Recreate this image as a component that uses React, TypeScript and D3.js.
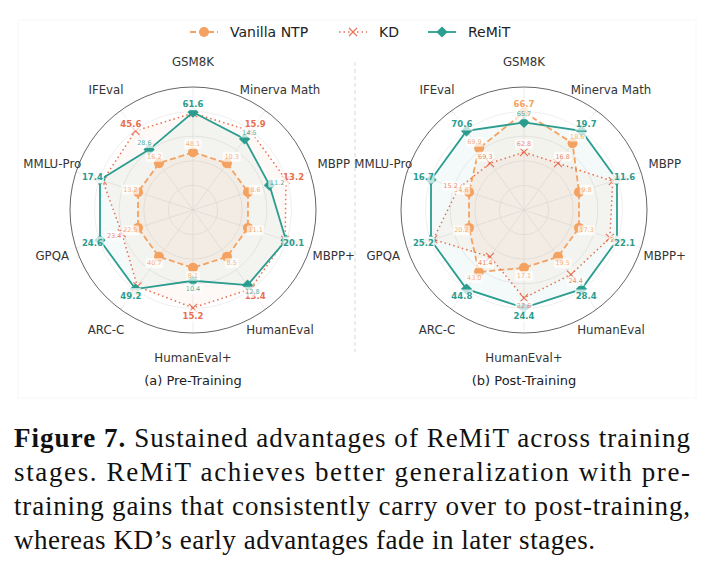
import React from "react";
import * as d3 from "d3";

// benchmark axes, clockwise from the top
const AXES = ["GSM8K", "Minerva Math", "MBPP", "MBPP+", "HumanEval", "HumanEval+", "ARC-C", "GPQA", "MMLU-Pro", "IFEval"];

const SERIES_NAMES = ["Vanilla NTP", "KD", "ReMiT"];
const SERIES_COLORS = ["#F4A261", "#E76F51", "#2A9D8F"];

// (a) pre-training
const PRE_VANILLA = [48.1, 10.3, 8.6, 11.1, 8.5, 8.1, 40.7, 22.5, 13.2, 16.2];
const PRE_KD = [61.3, 15.9, 13.2, 19.9, 13.4, 15.2, 48.5, 23.4, 17.1, 45.6];
const PRE_REMIT = [61.6, 14.5, 11.2, 20.1, 12.8, 10.4, 49.2, 24.6, 17.4, 28.6];

// (b) post-training
const POST_VANILLA = [66.7, 18.6, 9.8, 17.3, 19.5, 17.1, 43.0, 20.2, 14.6, 69.9];
const POST_KD = [62.8, 16.8, 11.4, 21.2, 24.4, 22.6, 41.4, 24.9, 15.2, 69.3];
const POST_REMIT = [65.7, 19.7, 11.6, 22.1, 28.4, 24.4, 44.8, 25.2, 16.7, 70.6];

const CAPTION = [
  "Sustained advantages of ReMiT across training",
  "stages.  ReMiT achieves better generalization with pre-",
  "training gains that consistently carry over to post-training,",
  "whereas KD\u2019s early advantages fade in later stages.",
];

const W = 711;
const H = 566;
const R = 123;
const FONT = "'DejaVu Sans', sans-serif";

const Marker = ({ kind, x, y, color }: { kind: number; x: number; y: number; color: string }) => {
  if (kind === 0) {
    return <path d={d3.symbol(d3.symbolCircle, 78)()!} transform={`translate(${x},${y})`} fill={color} />;
  }
  if (kind === 1) {
    const s = 4;
    return (
      <path
        d={`M${x - s},${y - s}L${x + s},${y + s}M${x - s},${y + s}L${x + s},${y - s}`}
        stroke={color}
        strokeWidth={1.1}
        fill="none"
      />
    );
  }
  return <path d={d3.symbol(d3.symbolDiamond2, 80)()!} transform={`translate(${x},${y})`} fill={color} />;
};

const dash = ["6,3", "1.5,3", null];
const widths = [1.8, 1.5, 1.8];

const Radar = ({ cx, cy, data, title }: { cx: number; cy: number; data: number[][]; title: string }) => {
  const n = AXES.length;
  const angle = d3.scaleLinear().domain([0, n]).range([0, 2 * Math.PI]);
  const grid = d3.scaleLinear().domain([0, 1]).range([0, R]);
  // each axis normalised on its own min..max
  const scales = AXES.map((_, i) => {
    const vals = data.map((s) => s[i]);
    return d3.scaleLinear().domain([d3.min(vals)!, d3.max(vals)!]).range([0.47 * R, 0.795 * R]);
  });
  const pt = (i: number, r: number) => [r * Math.sin(angle(i)), -r * Math.cos(angle(i))];
  const line = (vals: number[]) =>
    d3
      .lineRadial<number>()
      .angle((_, i) => angle(i))
      .radius((v, i) => scales[i](v))
      .curve(d3.curveLinearClosed)(vals)!;

  const maxIdx = AXES.map((_, i) => d3.maxIndex(data, (s) => s[i]));

  return (
    <g transform={`translate(${cx},${cy})`}>
      {[0.2, 0.4, 0.6, 0.8].map((t) => (
        <circle key={t} r={grid(t)} fill="none" stroke="#e6e6e6" strokeWidth={0.7} />
      ))}
      {AXES.map((_, i) => {
        const [x, y] = pt(i, R);
        return <line key={i} x1={0} y1={0} x2={x} y2={y} stroke="#e6e6e6" strokeWidth={0.7} />;
      })}
      <circle r={R} fill="none" stroke="#555" strokeWidth={0.9} />
      {AXES.map((a, i) => {
        const [x, y] = pt(i, 148);
        return (
          <text key={a} x={x} y={y} textAnchor="middle" dominantBaseline="central" fontSize={11.8} fill="#333">
            {a}
          </text>
        );
      })}
      {data.map((vals, s) => (
        <path key={"f" + s} d={line(vals)} fill={SERIES_COLORS[s]} fillOpacity={s === 0 ? 0.08 : 0.05} stroke="none" />
      ))}
      {data.map((vals, s) => (
        <g key={"s" + s}>
          <path
            d={line(vals)}
            fill="none"
            stroke={SERIES_COLORS[s]}
            strokeWidth={widths[s]}
            strokeDasharray={dash[s] ?? undefined}
          />
          {vals.map((v, i) => {
            const [x, y] = pt(i, scales[i](v));
            return <Marker key={i} kind={s} x={x} y={y} color={SERIES_COLORS[s]} />;
          })}
        </g>
      ))}
      {data.map((vals, s) => (
        <g key={"l" + s}>
          {vals.map((v, i) => {
            const bold = maxIdx[i] === s;
            const [x, y] = pt(i, scales[i](v) + 8);
            const fs = bold ? 8.5 : 6.5;
            const txt = v.toFixed(1);
            const w = txt.length * fs * 0.6 + 2;
            return (
              <g key={i}>
                <rect x={x - w / 2} y={y - fs * 0.6 - 1} width={w} height={fs * 1.2 + 2} rx={1.5} fill="#fff" fillOpacity={0.7} />
                <text
                  x={x}
                  y={y}
                  textAnchor="middle"
                  dominantBaseline="central"
                  fontSize={fs}
                  fontWeight={bold ? "bold" : "normal"}
                  fill={SERIES_COLORS[s]}
                  fillOpacity={bold ? 1 : 0.85}
                >
                  {txt}
                </text>
              </g>
            );
          })}
        </g>
      ))}
      <text x={0} y={170} textAnchor="middle" dominantBaseline="central" fontSize={13} fill="#222">
        {title}
      </text>
    </g>
  );
};

export default function App() {
  const legendX = [190, 339, 428];
  return (
    <svg width={W} height={H} style={{ position: "absolute", left: 0, top: 0, background: "#fff" }} fontFamily={FONT}>
      <rect x={18} y={20} width={678} height={378} fill="none" stroke="#f7f7f7" strokeWidth={1} />
      <g>
        {SERIES_NAMES.map((name, s) => {
          const x0 = legendX[s];
          return (
            <g key={name}>
              <line
                x1={x0}
                x2={x0 + 28}
                y1={32}
                y2={32}
                stroke={SERIES_COLORS[s]}
                strokeWidth={widths[s]}
                strokeDasharray={dash[s] ?? undefined}
              />
              <Marker kind={s} x={x0 + 14} y={32} color={SERIES_COLORS[s]} />
              <text x={x0 + 40} y={32} dominantBaseline="central" fontSize={14} fill="#222">
                {name}
              </text>
            </g>
          );
        })}
      </g>
      <line x1={355} x2={355} y1={62} y2={352} stroke="#cfcfcf" strokeWidth={0.8} strokeDasharray="4,3" />
      <Radar cx={193} cy={210} data={[PRE_VANILLA, PRE_KD, PRE_REMIT]} title="(a) Pre-Training" />
      <Radar cx={524} cy={210} data={[POST_VANILLA, POST_KD, POST_REMIT]} title="(b) Post-Training" />
      <g fontFamily="'Liberation Serif', serif" fontSize={27} fill="#111" style={{ whiteSpace: "pre" }}>
        <text x={14} y={447} textLength={676} lengthAdjust="spacing">
          <tspan fontWeight="bold">Figure 7.</tspan> {CAPTION[0]}
        </text>
        <text x={14} y={481} textLength={676} lengthAdjust="spacing">
          {CAPTION[1]}
        </text>
        <text x={14} y={515} textLength={676} lengthAdjust="spacing">
          {CAPTION[2]}
        </text>
        <text x={14} y={549} textLength={581} lengthAdjust="spacing">
          {CAPTION[3]}
        </text>
      </g>
    </svg>
  );
}
